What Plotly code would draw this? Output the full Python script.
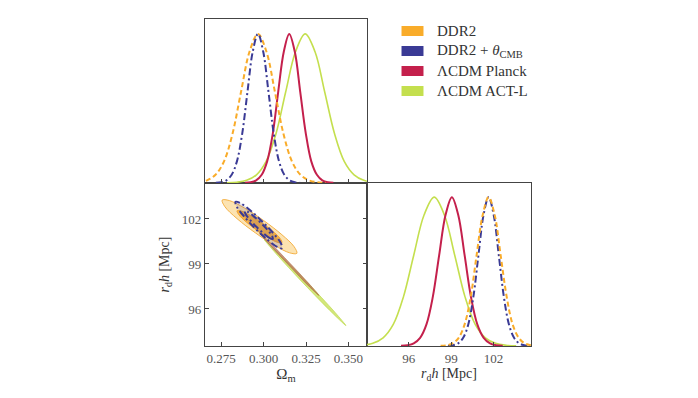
import plotly.graph_objects as go

# ---------------- 1D posteriors in Omega_m (top-left panel) ----------------
om_ddr2_x = [0.2567, 0.2617, 0.2667, 0.2717, 0.2767, 0.2817, 0.2867, 0.2917, 0.2967,
             0.3017, 0.3067, 0.3117, 0.3167, 0.3217, 0.3267, 0.3317, 0.3367]
om_ddr2_p = [0.001, 0.005, 0.018, 0.055, 0.145, 0.33, 0.61, 0.88, 1.0,
             0.88, 0.61, 0.33, 0.145, 0.055, 0.018, 0.005, 0.001]

om_ddr2cmb_x = [0.2719, 0.2750, 0.2781, 0.2812, 0.2843, 0.2874, 0.2905, 0.2936, 0.2967,
                0.2998, 0.3029, 0.3060, 0.3091, 0.3122, 0.3153, 0.3184, 0.3215]
om_ddr2cmb_p = [0.001, 0.005, 0.018, 0.055, 0.145, 0.33, 0.61, 0.88, 1.0,
                0.88, 0.61, 0.33, 0.145, 0.055, 0.018, 0.005, 0.001]

om_planck_x = [0.2891, 0.2924, 0.2956, 0.2989, 0.3021, 0.3054, 0.3086, 0.3119, 0.3151,
               0.3184, 0.3216, 0.3249, 0.3281, 0.3314, 0.3346, 0.3379, 0.3411]
om_planck_p = [0.001, 0.005, 0.018, 0.055, 0.145, 0.33, 0.61, 0.88, 1.0,
               0.88, 0.61, 0.33, 0.145, 0.055, 0.018, 0.005, 0.001]

om_act_x = [0.2785, 0.2843, 0.2900, 0.2958, 0.3015, 0.3073, 0.3130, 0.3188, 0.3245,
            0.3303, 0.3360, 0.3418, 0.3475, 0.3533, 0.3590, 0.3648, 0.3705]
om_act_p = [0.001, 0.005, 0.018, 0.055, 0.145, 0.33, 0.61, 0.88, 1.0,
            0.88, 0.61, 0.33, 0.145, 0.055, 0.018, 0.005, 0.001]

# ---------------- 1D posteriors in r_d h (bottom-right panel) ----------------
rh_ddr2_x = [98.25, 98.68, 99.10, 99.53, 99.95, 100.38, 100.80, 101.23, 101.65,
             102.08, 102.50, 102.93, 103.35, 103.78, 104.20, 104.63, 105.05]
rh_ddr2_p = [0.001, 0.005, 0.018, 0.055, 0.145, 0.33, 0.61, 0.88, 1.0,
             0.88, 0.61, 0.33, 0.145, 0.055, 0.018, 0.005, 0.001]

rh_ddr2cmb_x = [98.77, 99.13, 99.49, 99.85, 100.21, 100.57, 100.93, 101.29, 101.65,
                102.01, 102.37, 102.73, 103.09, 103.45, 103.81, 104.17, 104.53]
rh_ddr2cmb_p = [0.001, 0.005, 0.018, 0.055, 0.145, 0.33, 0.61, 0.88, 1.0,
                0.88, 0.61, 0.33, 0.145, 0.055, 0.018, 0.005, 0.001]

rh_planck_x = [95.45, 95.90, 96.35, 96.80, 97.25, 97.70, 98.15, 98.60, 99.05,
               99.50, 99.95, 100.40, 100.85, 101.30, 101.75, 102.20, 102.65]
rh_planck_p = [0.001, 0.005, 0.018, 0.055, 0.145, 0.33, 0.61, 0.88, 1.0,
               0.88, 0.61, 0.33, 0.145, 0.055, 0.018, 0.005, 0.001]

rh_act_x = [92.00, 92.72, 93.45, 94.18, 94.90, 95.62, 96.35, 97.08, 97.80,
            98.52, 99.25, 99.98, 100.70, 101.42, 102.15, 102.88, 103.60]
rh_act_p = [0.001, 0.005, 0.018, 0.055, 0.145, 0.33, 0.61, 0.88, 1.0,
            0.88, 0.61, 0.33, 0.145, 0.055, 0.018, 0.005, 0.001]

# ---------------- 2D contours (Omega_m, r_d h) ----------------
c_ddr2_95_om = [0.3196, 0.3154, 0.3063, 0.2951, 0.2844, 0.2772, 0.2756, 0.2798, 0.2888, 0.3001, 0.3108, 0.3180]
c_ddr2_95_rh = [99.71, 99.74, 100.25, 101.08, 102.02, 102.82, 103.26, 103.23, 102.73, 101.89, 100.95, 100.15]
c_ddr2_68_om = [0.3108, 0.3083, 0.3028, 0.2961, 0.2897, 0.2854, 0.2844, 0.2869, 0.2923, 0.2991, 0.3055, 0.3098]
c_ddr2_68_rh = [100.42, 100.44, 100.75, 101.24, 101.81, 102.29, 102.55, 102.53, 102.23, 101.73, 101.17, 100.69]

c_cmb_95_om = [0.3109, 0.3080, 0.3023, 0.2951, 0.2885, 0.2842, 0.2835, 0.2863, 0.2921, 0.2992, 0.3059, 0.3102]
c_cmb_95_rh = [100.05, 100.14, 100.62, 101.36, 102.17, 102.82, 103.15, 103.06, 102.58, 101.83, 101.03, 100.38]
c_cmb_68_om = [0.3054, 0.3037, 0.3003, 0.2959, 0.2920, 0.2894, 0.2890, 0.2907, 0.2941, 0.2984, 0.3024, 0.3050]
c_cmb_68_rh = [100.67, 100.72, 101.01, 101.46, 101.94, 102.33, 102.53, 102.48, 102.19, 101.74, 101.26, 100.87]

c_planck_om = [0.3326, 0.3271, 0.3146, 0.3022, 0.2974, 0.3029, 0.3155, 0.3278]
c_planck_rh = [96.90, 97.47, 98.95, 100.45, 101.10, 100.53, 99.05, 97.55]

c_act_om = [0.3485, 0.3410, 0.3238, 0.3071, 0.3005, 0.3080, 0.3252, 0.3420]
c_act_rh = [94.89, 95.68, 97.67, 99.72, 100.61, 99.82, 97.83, 95.78]

# ---------------- labels / ticks ----------------
series_names = ["DDR2", "DDR2 + <i>θ</i><sub>CMB</sub>", "ΛCDM Planck", "ΛCDM ACT-L"]
series_colors = ["#F9AC2A", "#3A3A95", "#C4204C", "#C4DF4E"]
om_ticks = [0.275, 0.300, 0.325, 0.350]
om_ticktext = ["0.275", "0.300", "0.325", "0.350"]
rh_ticks = [96, 99, 102]
rh_ticktext = ["96", "99", "102"]

ORANGE, BLUE, CRIMSON, LIME = series_colors
FONT = "Liberation Serif"
AX = "#444444"
DASH = "5px,3px"
DASHDOT = "7px,3px,2px,3px"


def closed(a):
    return list(a) + [a[0]]


fig = go.Figure()

# ---- top-left: Omega_m 1D ----
fig.add_trace(go.Scatter(x=om_act_x, y=om_act_p, mode="lines", xaxis="x2", yaxis="y2",
                         line=dict(color=LIME, width=1.6, shape="spline"), showlegend=False))
fig.add_trace(go.Scatter(x=om_planck_x, y=om_planck_p, mode="lines", xaxis="x2", yaxis="y2",
                         line=dict(color=CRIMSON, width=2, shape="spline"), showlegend=False))
fig.add_trace(go.Scatter(x=om_ddr2_x, y=om_ddr2_p, mode="lines", xaxis="x2", yaxis="y2",
                         line=dict(color=ORANGE, width=2, dash=DASH, shape="spline"), showlegend=False))
fig.add_trace(go.Scatter(x=om_ddr2cmb_x, y=om_ddr2cmb_p, mode="lines", xaxis="x2", yaxis="y2",
                         line=dict(color=BLUE, width=2, dash=DASHDOT, shape="spline"), showlegend=False))

# ---- bottom-right: r_d h 1D ----
fig.add_trace(go.Scatter(x=rh_act_x, y=rh_act_p, mode="lines", xaxis="x3", yaxis="y3",
                         line=dict(color=LIME, width=1.6, shape="spline"), showlegend=False))
fig.add_trace(go.Scatter(x=rh_planck_x, y=rh_planck_p, mode="lines", xaxis="x3", yaxis="y3",
                         line=dict(color=CRIMSON, width=2, shape="spline"), showlegend=False))
fig.add_trace(go.Scatter(x=rh_ddr2cmb_x, y=rh_ddr2cmb_p, mode="lines", xaxis="x3", yaxis="y3",
                         line=dict(color=BLUE, width=2, dash=DASHDOT, shape="spline"), showlegend=False))
fig.add_trace(go.Scatter(x=rh_ddr2_x, y=rh_ddr2_p, mode="lines", xaxis="x3", yaxis="y3",
                         line=dict(color=ORANGE, width=2, dash=DASH, shape="spline"), showlegend=False))

# ---- bottom-left: 2D contours ----
fig.add_trace(go.Scatter(x=closed(c_ddr2_95_om), y=closed(c_ddr2_95_rh), mode="lines", fill="toself",
                         fillcolor="rgba(250,208,125,0.6)", line=dict(color="#F5B247", width=1, shape="spline"),
                         xaxis="x", yaxis="y", showlegend=False))
fig.add_trace(go.Scatter(x=closed(c_ddr2_68_om), y=closed(c_ddr2_68_rh), mode="lines", fill="toself",
                         fillcolor="rgba(244,165,45,0.8)", line=dict(color="#F0A030", width=1, shape="spline"),
                         xaxis="x", yaxis="y", showlegend=False))
fig.add_trace(go.Scatter(x=closed(c_act_om), y=closed(c_act_rh), mode="lines", fill="toself",
                         fillcolor="rgba(196,223,78,0.75)", line=dict(color="rgba(190,218,80,0.9)", width=0.8, shape="spline"),
                         xaxis="x", yaxis="y", showlegend=False))
fig.add_trace(go.Scatter(x=closed(c_planck_om), y=closed(c_planck_rh), mode="lines", fill="toself",
                         fillcolor="rgba(178,81,75,0.6)", line=dict(color="rgba(165,110,60,0.7)", width=0.8, shape="spline"),
                         xaxis="x", yaxis="y", showlegend=False))
fig.add_trace(go.Scatter(x=closed(c_cmb_95_om), y=closed(c_cmb_95_rh), mode="lines", fill="toself",
                         fillcolor="rgba(58,58,149,0.15)", line=dict(color=BLUE, width=2, dash=DASHDOT, shape="spline"),
                         xaxis="x", yaxis="y", showlegend=False))
fig.add_trace(go.Scatter(x=closed(c_cmb_68_om), y=closed(c_cmb_68_rh), mode="lines",
                         line=dict(color=BLUE, width=2, dash=DASHDOT, shape="spline"),
                         xaxis="x", yaxis="y", showlegend=False))

# ---- axes ----
XD_L = [0, 0.4969]
XD_R = [0.4969, 1]
YD_B = [0, 0.4985]
YD_T = [0.4985, 1]
om_range = [0.2655, 0.3609]

common = dict(showgrid=False, zeroline=False, showline=True, linecolor=AX, linewidth=1.3,
              tickcolor=AX, ticklen=4, tickwidth=1,
              tickfont=dict(family=FONT, size=13, color="#555555"))

fig.update_layout(
    width=690, height=390,
    paper_bgcolor="white", plot_bgcolor="white",
    margin=dict(l=197, r=167, t=11, b=52),
    showlegend=False,
    xaxis=dict(domain=XD_L, anchor="y", range=om_range, tickvals=om_ticks, ticktext=om_ticktext,
               ticks="inside", mirror=True,
               title=dict(text="Ω<sub>m</sub>", font=dict(family=FONT, size=15, color="#333333"), standoff=3),
               **common),
    yaxis=dict(domain=YD_B, anchor="x", range=[93.53, 104.4], tickvals=rh_ticks, ticktext=rh_ticktext,
               ticks="inside", mirror="ticks",
               title=dict(text="<i>r</i><sub>d</sub><i>h</i> [Mpc]", font=dict(family=FONT, size=14, color="#333333"),
                          standoff=8),
               **common),
    xaxis2=dict(domain=XD_L, anchor="y2", range=om_range, tickvals=om_ticks, showticklabels=False,
                ticks="inside", mirror=True, **common),
    yaxis2=dict(domain=YD_T, anchor="x2", range=[0, 1.1], showticklabels=False, ticks="", mirror=True,
                **common),
    xaxis3=dict(domain=XD_R, anchor="y3", range=[93.04, 104.65], tickvals=rh_ticks, ticktext=rh_ticktext,
                ticks="inside", mirror=True,
                title=dict(text="<i>r</i><sub>d</sub><i>h</i> [Mpc]", font=dict(family=FONT, size=14, color="#333333"),
                           standoff=3),
                **common),
    yaxis3=dict(domain=YD_B, anchor="x3", range=[0, 1.095], showticklabels=False, ticks="", mirror=True,
                **common),
)

# ---- manual legend (top-right empty quadrant) ----
leg_y = [0.9633, 0.9021, 0.8410, 0.7798]
for name, col, yy in zip(series_names, series_colors, leg_y):
    fig.add_shape(type="rect", xref="paper", yref="paper", x0=0.6028, x1=0.6702,
                  y0=yy - 0.0153, y1=yy + 0.0153, fillcolor=col, line=dict(width=0))
    fig.add_annotation(xref="paper", yref="paper", x=0.7055, y=yy, text=name, showarrow=False,
                       xanchor="left", yanchor="middle",
                       font=dict(family=FONT, size=15, color="#333333"))

fig.write_html("out.html")
